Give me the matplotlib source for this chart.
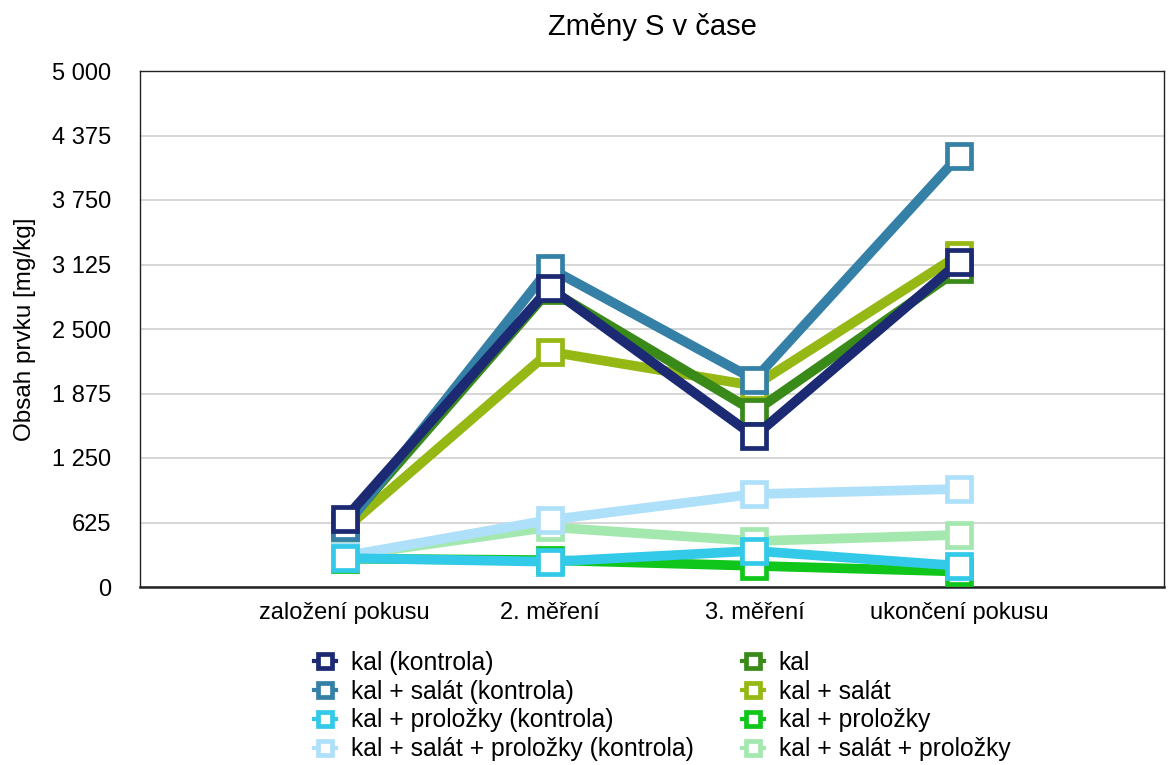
import matplotlib
matplotlib.use("Agg")
import matplotlib.pyplot as plt
from matplotlib.ticker import FuncFormatter

plt.rcParams["font.family"] = ["Liberation Sans", "DejaVu Sans"]

categories = ["založení pokusu", "2. měření", "3. měření", "ukončení pokusu"]

series_names = [
    "kal (kontrola)",
    "kal + salát (kontrola)",
    "kal + proložky (kontrola)",
    "kal + salát + proložky (kontrola)",
    "kal",
    "kal + salát",
    "kal + proložky",
    "kal + salát + proložky",
]

kal_kontrola = [660, 2900, 1460, 3150]
kal_salat_kontrola = [580, 3090, 2010, 4180]
kal_prolozky_kontrola = [280, 245, 350, 205]
kal_salat_prolozky_kontrola = [300, 650, 900, 950]
kal = [600, 2880, 1700, 3080]
kal_salat = [560, 2280, 1950, 3220]
kal_prolozky = [275, 260, 205, 150]
kal_salat_prolozky = [300, 580, 445, 505]

series_values = [
    kal_kontrola, kal_salat_kontrola, kal_prolozky_kontrola,
    kal_salat_prolozky_kontrola, kal, kal_salat, kal_prolozky,
    kal_salat_prolozky,
]

colors = ["#1b2a72", "#3580a6", "#33c9e8", "#aee0fa",
          "#3a8a1a", "#96b814", "#11c61b", "#a4e8b0"]

y_ticks = [0, 625, 1250, 1875, 2500, 3125, 3750, 4375, 5000]

fig = plt.figure(figsize=(11.73, 7.65), dpi=100)
ax = fig.add_axes([140 / 1173, 1 - 587 / 765, 1024 / 1173, 516 / 765])

x = list(range(len(categories)))
handles = []
for i, (name, vals, col) in enumerate(zip(series_names, series_values, colors)):
    (h,) = ax.plot(x, vals, color=col, lw=7, marker="s", markersize=17.5,
                   markerfacecolor="white", markeredgecolor=col,
                   markeredgewidth=3.4, zorder=20 - i, label=name,
                   solid_joinstyle="miter")
    handles.append(h)

ax.set_xlim(-1, 4)
ax.set_ylim(0, 5000)
ax.set_xticks(x)
ax.set_xticklabels(categories, fontsize=17)
ax.set_yticks(y_ticks)
ax.yaxis.set_major_formatter(FuncFormatter(lambda v, p: f"{int(v):,}".replace(",", " ")))
ax.tick_params(axis="y", labelsize=17, length=0, pad=21)
ax.tick_params(axis="x", length=0, pad=11)
ax.grid(axis="y", color="#d0d0d0", lw=1.2)
ax.set_axisbelow(True)
for s in ax.spines.values():
    s.set_color("#222222")
    s.set_linewidth(1.0)
ax.spines["bottom"].set_linewidth(1.8)

ax.set_ylabel("Obsah prvku [mg/kg]", fontsize=17.5, labelpad=11)
fig.text(652 / 1173, 1 - 27 / 765, "Změny S v čase", ha="center", va="center", fontsize=21)

leg = fig.legend(handles, series_names,
                 ncol=2, loc="center", bbox_to_anchor=(662 / 1173, 1 - 706 / 765),
                 frameon=False, fontsize=17.8, handlelength=0.9, handletextpad=0.6,
                 columnspacing=1.95, labelspacing=0.2, markerscale=0.55)
for lh in leg.get_lines():
    lh.set_linewidth(3)

fig.savefig("out.png", dpi=100)
